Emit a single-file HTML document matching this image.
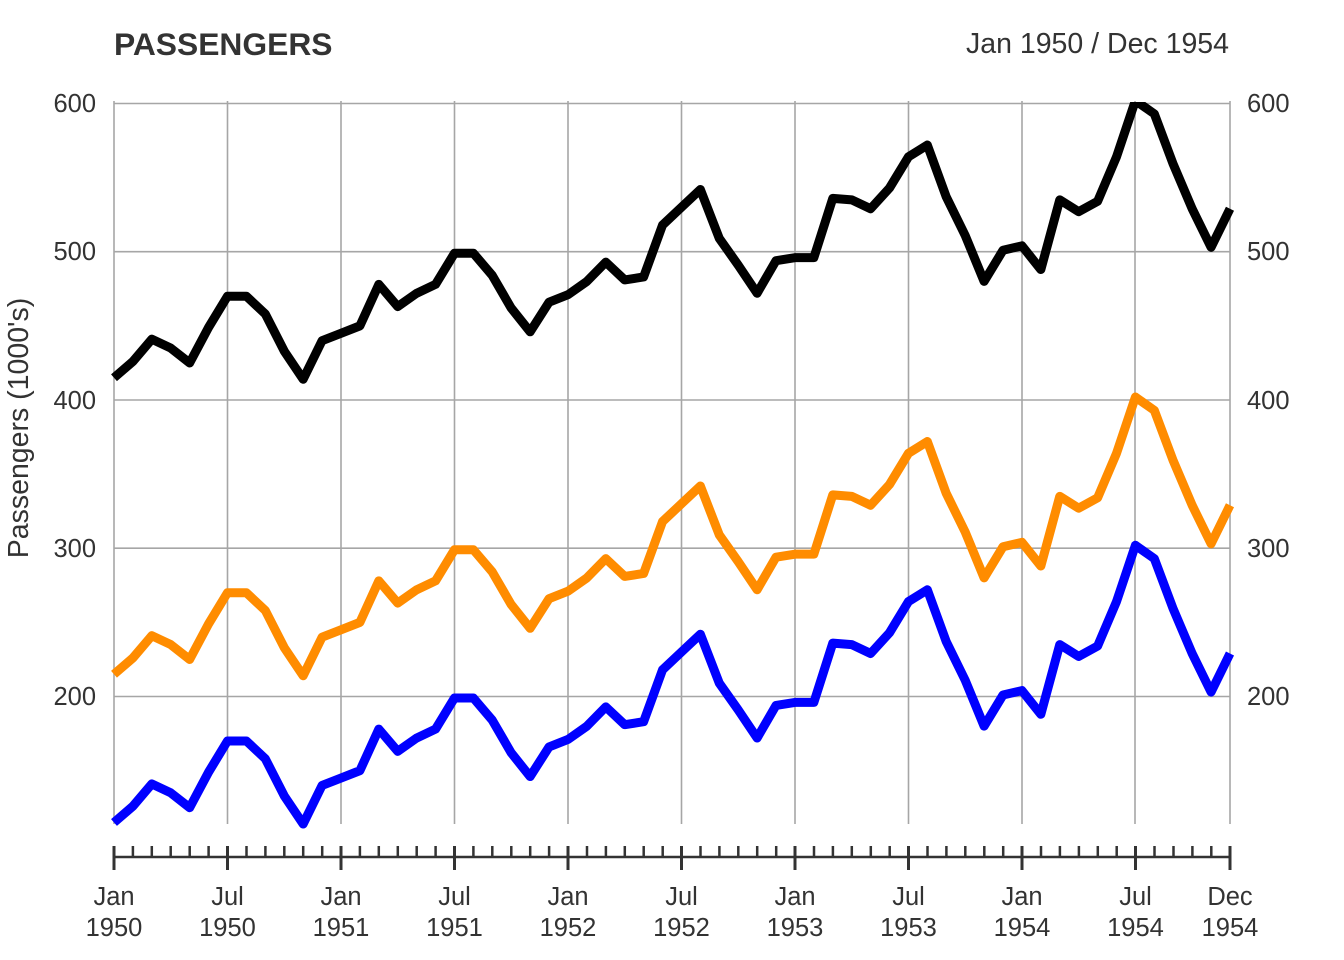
<!DOCTYPE html>
<html><head><meta charset="utf-8"><style>
html,body{margin:0;padding:0;background:#fff;}
svg{display:block;}
text{font-family:"Liberation Sans",Arial,sans-serif;fill:#333;}
</style></head><body>
<svg width="1344" height="960" viewBox="0 0 1344 960" xmlns="http://www.w3.org/2000/svg">
<defs><clipPath id="pc"><rect x="0" y="102" width="1344" height="858"/></clipPath></defs>
<rect width="1344" height="960" fill="#fff"/>
<text x="114" y="55" font-size="31.8" font-weight="bold" fill="#2b2b2b">PASSENGERS</text>
<text x="1229" y="53" font-size="28.5" text-anchor="end">Jan 1950 / Dec 1954</text>
<g stroke="#a6a6a6" stroke-width="1.6" fill="none">
<line x1="114" y1="103.5" x2="1230" y2="103.5"/>
<line x1="114" y1="251.7" x2="1230" y2="251.7"/>
<line x1="114" y1="400" x2="1230" y2="400"/>
<line x1="114" y1="548.2" x2="1230" y2="548.2"/>
<line x1="114" y1="696.5" x2="1230" y2="696.5"/>
<line x1="114" y1="101" x2="114" y2="824"/>
<line x1="227.5" y1="101" x2="227.5" y2="824"/>
<line x1="341" y1="101" x2="341" y2="824"/>
<line x1="454.5" y1="101" x2="454.5" y2="824"/>
<line x1="568" y1="101" x2="568" y2="824"/>
<line x1="681.5" y1="101" x2="681.5" y2="824"/>
<line x1="795" y1="101" x2="795" y2="824"/>
<line x1="908.5" y1="101" x2="908.5" y2="824"/>
<line x1="1022" y1="101" x2="1022" y2="824"/>
<line x1="1135" y1="101" x2="1135" y2="824"/>
<line x1="1230" y1="101" x2="1230" y2="824"/>
</g>
<g font-size="25.5" text-anchor="end">
<text x="96" y="112">600</text>
<text x="96" y="260">500</text>
<text x="96" y="409">400</text>
<text x="96" y="557">300</text>
<text x="96" y="705">200</text>
</g>
<g font-size="25.5" text-anchor="start">
<text x="1247" y="112">600</text>
<text x="1247" y="260">500</text>
<text x="1247" y="409">400</text>
<text x="1247" y="557">300</text>
<text x="1247" y="705">200</text>
</g>
<text transform="translate(28,428) rotate(-90)" font-size="28.5" text-anchor="middle" fill="#111">Passengers (1000's)</text>
<g fill="none" stroke-width="9" stroke-linejoin="round" clip-path="url(#pc)">
<polyline vector-effect="non-scaling-stroke" stroke="#0000ff" transform="matrix(18.915 0 0 -1.4825 114 993)" points="0,115 1,126 2,141 3,135 4,125 5,149 6,170 7,170 8,158 9,133 10,114 11,140 12,145 13,150 14,178 15,163 16,172 17,178 18,199 19,199 20,184 21,162 22,146 23,166 24,171 25,180 26,193 27,181 28,183 29,218 30,230 31,242 32,209 33,191 34,172 35,194 36,196 37,196 38,236 39,235 40,229 41,243 42,264 43,272 44,237 45,211 46,180 47,201 48,204 49,188 50,235 51,227 52,234 53,264 54,302 55,293 56,259 57,229 58,203 59,229"/>
<polyline vector-effect="non-scaling-stroke" stroke="#ff8c00" transform="matrix(18.915 0 0 -1.4825 114 844.75)" points="0,115 1,126 2,141 3,135 4,125 5,149 6,170 7,170 8,158 9,133 10,114 11,140 12,145 13,150 14,178 15,163 16,172 17,178 18,199 19,199 20,184 21,162 22,146 23,166 24,171 25,180 26,193 27,181 28,183 29,218 30,230 31,242 32,209 33,191 34,172 35,194 36,196 37,196 38,236 39,235 40,229 41,243 42,264 43,272 44,237 45,211 46,180 47,201 48,204 49,188 50,235 51,227 52,234 53,264 54,302 55,293 56,259 57,229 58,203 59,229"/>
<polyline vector-effect="non-scaling-stroke" stroke="#000000" transform="matrix(18.915 0 0 -1.4825 114 548.25)" points="0,115 1,126 2,141 3,135 4,125 5,149 6,170 7,170 8,158 9,133 10,114 11,140 12,145 13,150 14,178 15,163 16,172 17,178 18,199 19,199 20,184 21,162 22,146 23,166 24,171 25,180 26,193 27,181 28,183 29,218 30,230 31,242 32,209 33,191 34,172 35,194 36,196 37,196 38,236 39,235 40,229 41,243 42,264 43,272 44,237 45,211 46,180 47,201 48,204 49,188 50,235 51,227 52,234 53,264 54,302 55,293 56,259 57,229 58,203 59,229"/>
</g>
<g stroke="#333" stroke-width="2.5" fill="none">
<line x1="113" y1="857" x2="1231" y2="857"/>
<path d="M132.9 846V857M151.8 846V857M170.7 846V857M189.7 846V857M208.6 846V857M246.5 846V857M265.4 846V857M284.3 846V857M303.2 846V857M322.2 846V857M359.9 846V857M378.8 846V857M397.8 846V857M416.7 846V857M435.6 846V857M473.4 846V857M492.3 846V857M511.3 846V857M530.2 846V857M549.1 846V857M587 846V857M605.9 846V857M624.8 846V857M643.7 846V857M662.7 846V857M700.5 846V857M719.4 846V857M738.3 846V857M757.2 846V857M776.2 846V857M814 846V857M832.9 846V857M851.8 846V857M870.8 846V857M889.7 846V857M927.5 846V857M946.4 846V857M965.3 846V857M984.3 846V857M1003.2 846V857M1041 846V857M1059.9 846V857M1078.9 846V857M1097.8 846V857M1116.7 846V857M1154.5 846V857M1173.5 846V857M1192.4 846V857M1211.3 846V857"/>
<path stroke-width="3" d="M114 846V870M227.5 846V870M341 846V870M454.5 846V870M568 846V870M681.5 846V870M795 846V870M908.5 846V870M1022 846V870M1135.5 846V870M1230 846V870"/>
</g>
<g font-size="25.5" text-anchor="middle">
<text x="114" y="905">Jan</text><text x="114" y="936">1950</text>
<text x="227.5" y="905">Jul</text><text x="227.5" y="936">1950</text>
<text x="341" y="905">Jan</text><text x="341" y="936">1951</text>
<text x="454.5" y="905">Jul</text><text x="454.5" y="936">1951</text>
<text x="568" y="905">Jan</text><text x="568" y="936">1952</text>
<text x="681.5" y="905">Jul</text><text x="681.5" y="936">1952</text>
<text x="795" y="905">Jan</text><text x="795" y="936">1953</text>
<text x="908.5" y="905">Jul</text><text x="908.5" y="936">1953</text>
<text x="1022" y="905">Jan</text><text x="1022" y="936">1954</text>
<text x="1135.5" y="905">Jul</text><text x="1135.5" y="936">1954</text>
<text x="1230" y="905">Dec</text><text x="1230" y="936">1954</text>
</g>
</svg>
</body></html>
